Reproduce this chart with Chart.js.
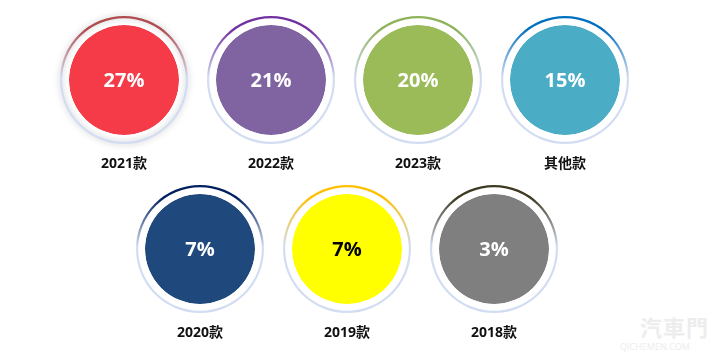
<!DOCTYPE html>
<html>
<head>
<meta charset="utf-8">
<script src="https://cdn.jsdelivr.net/npm/chart.js@4"></script>
<style>
  html, body { margin: 0; padding: 0; background: #ffffff; }
  #wrap { position: relative; width: 712px; height: 357px; overflow: hidden; background: #fff; }
  .cell { position: absolute; width: 160px; height: 190px; }
  .cell canvas { display: block; }
  .wm { position: absolute; color: #ededed; font-family: "Noto Sans CJK TC", "Noto Sans CJK SC", sans-serif; }
</style>
</head>
<body>
<div id="wrap">
  <div class="wm" style="left:640px; top:310px; font-size:22px; font-weight:700; letter-spacing:1px;">汽車門</div>
  <div class="wm" style="left:620px; top:340px; font-size:9px; font-family:'Open Sans',sans-serif;">QICHEMEN.COM</div>
</div>
<script>
// ---- data ----
const categories = ['2021款', '2022款', '2023款', '其他款', '2020款', '2019款', '2018款'];
const shares = [27, 21, 20, 15, 7, 7, 3];

// ---- styles ----
const fillColors = ['#F43B47', '#8064A2', '#9BBB59', '#4BACC6', '#1F497D', '#FFFF00', '#7F7F7F'];
const ringColors = ['#B04A4C', '#7030A0', '#8DB35A', '#0070C0', '#002060', '#FFC000', '#3E3A22'];
const textColors = ['#ffffff', '#ffffff', '#ffffff', '#ffffff', '#ffffff', '#000000', '#ffffff'];
const rowSizes = [4, 3];

const wrap = document.getElementById('wrap');

const labelPlugin = {
  id: 'circleLabels',
  afterDatasetsDraw(chart, args, opts) {
    const meta = chart.getDatasetMeta(2);
    const arc = meta.data[0];
    if (!arc) return;
    const ring = chart.getDatasetMeta(0).data[0];
    const ctx = chart.ctx;
    ctx.save();
    ctx.textAlign = 'center';
    ctx.textBaseline = 'middle';
    ctx.fillStyle = opts.valueColor;
    ctx.font = 'bold 20px "Open Sans", "Noto Sans CJK SC", sans-serif';
    ctx.fillText(opts.value + '%', arc.x, arc.y + 1);
    ctx.fillStyle = '#111111';
    ctx.font = 'bold 14px "Open Sans", "Noto Sans CJK SC", sans-serif';
    ctx.fillText(opts.label, arc.x, arc.y + ring.outerRadius + 20);
    ctx.restore();
  }
};

const glowPlugin = {
  id: 'ringGlow',
  beforeDatasetDraw(chart, args, opts) {
    if (!opts.enabled || args.index !== 0) return;
    chart.ctx.save();
    chart.ctx.shadowColor = 'rgba(70,70,90,0.35)';
    chart.ctx.shadowBlur = 6;
  },
  afterDatasetDraw(chart, args, opts) {
    if (!opts.enabled || args.index !== 0) return;
    chart.ctx.restore();
  }
};

let idx = 0;
const centersTop = [124, 271, 418, 565];
const centersBottom = [200, 347, 494];
const rowCenters = [centersTop, centersBottom];
const rowY = [80, 249];

rowSizes.forEach((n, r) => {
  for (let c = 0; c < n; c++) {
    const i = idx++;
    const div = document.createElement('div');
    div.className = 'cell';
    div.style.left = (rowCenters[r][c] - 80) + 'px';
    div.style.top = (rowY[r] - 80) + 'px';
    const cv = document.createElement('canvas');
    cv.width = 160;
    cv.height = 190;
    cv.style.width = '160px';
    cv.style.height = '190px';
    div.appendChild(cv);
    wrap.appendChild(div);

    const ringGradient = (context) => {
      const chart = context.chart;
      const a = chart.chartArea;
      if (!a) return ringColors[i];
      const g = chart.ctx.createLinearGradient(0, a.top, 0, a.bottom);
      g.addColorStop(0, ringColors[i]);
      g.addColorStop(0.1, ringColors[i]);
      g.addColorStop(0.48, '#D3DDF2');
      g.addColorStop(1, '#D3DDF2');
      return g;
    };

    new Chart(cv, {
      type: 'pie',
      data: {
        labels: [categories[i]],
        datasets: [
          { data: [shares[i]], backgroundColor: ringGradient, weight: 2.2, borderWidth: 0 },
          { data: [shares[i]], backgroundColor: '#ffffff', weight: 6.8, borderWidth: 0 },
          { data: [shares[i]], backgroundColor: fillColors[i], weight: 55, borderWidth: 0 }
        ]
      },
      options: {
        responsive: false,
        maintainAspectRatio: false,
        animation: false,
        devicePixelRatio: 1,
        events: [],
        layout: { padding: { left: 16, right: 16, top: 16, bottom: 46 } },
        elements: { arc: { borderWidth: 0, hoverOffset: 0, hoverBorderWidth: 0 } },
        plugins: {
          legend: { display: false },
          tooltip: { enabled: false },
          circleLabels: { value: shares[i], label: categories[i], valueColor: textColors[i] },
          ringGlow: { enabled: i === 0 }
        }
      },
      plugins: [glowPlugin, labelPlugin]
    });
  }
});
</script>
</body>
</html>
